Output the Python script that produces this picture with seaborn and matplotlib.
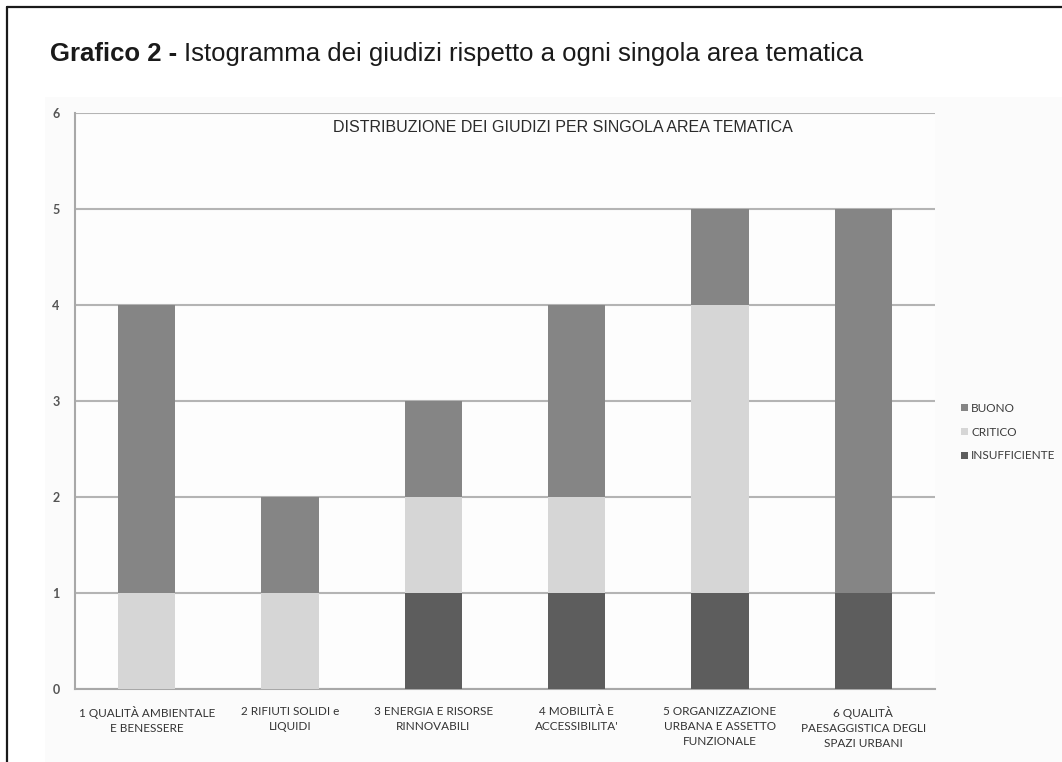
import matplotlib
matplotlib.use("Agg")
import matplotlib.pyplot as plt
from matplotlib.lines import Line2D
from matplotlib.patches import Rectangle
import numpy as np
import pandas as pd
import seaborn as sns

# Data: number of judgements per thematic area
categories = [
    "1 QUALITÀ AMBIENTALE\nE BENESSERE",
    "2 RIFIUTI SOLIDI e\nLIQUIDI",
    "3 ENERGIA E RISORSE\nRINNOVABILI",
    "4 MOBILITÀ E\nACCESSIBILITA'",
    "5 ORGANIZZAZIONE\nURBANA E ASSETTO\nFUNZIONALE",
    "6 QUALITÀ\nPAESAGGISTICA DEGLI\nSPAZI URBANI",
]
insufficiente = [0, 0, 1, 1, 1, 1]
critico = [1, 1, 1, 1, 3, 0]
buono = [3, 1, 1, 2, 1, 4]
y_ticks = [0, 1, 2, 3, 4, 5, 6]

colors = {"BUONO": "#858585", "CRITICO": "#d6d6d6", "INSUFFICIENTE": "#5d5d5d"}

sns.set_theme(style="white")
plt.rcParams["font.family"] = ["Liberation Sans", "DejaVu Sans"]
label_font = ["Lato", "DejaVu Sans"]

fig = plt.figure(figsize=(10.62, 7.62), dpi=100)
fig.patch.set_facecolor("white")

# Framed panel with the chart area
fig.add_artist(Line2D([7 / 1062, 7 / 1062], [0, 1 - 7 / 762], transform=fig.transFigure,
                      color="#1a1a1a", lw=1.6))
fig.add_artist(Line2D([7 / 1062, 1], [1 - 7 / 762, 1 - 7 / 762], transform=fig.transFigure,
                      color="#1a1a1a", lw=1.6))
fig.add_artist(Rectangle((45 / 1062, 0), 1 - 45 / 1062, 1 - 97 / 762, transform=fig.transFigure,
                         facecolor="#fbfbfb", edgecolor="none", zorder=0))

# Panel caption: bold prefix followed by regular text
title_y = 1 - 61 / 762
t1 = fig.text(50 / 1062, title_y, "Grafico 2 - ", fontsize=18.5, fontweight="bold",
              color="#1a1a1a", va="baseline", ha="left")
fig.canvas.draw()
bb = t1.get_window_extent(renderer=fig.canvas.get_renderer())
fig.text(bb.x1 / fig.bbox.width, title_y,
         "Istogramma dei giudizi rispetto a ogni singola area tematica",
         fontsize=18.5, color="#1a1a1a", va="baseline", ha="left")

ax = fig.add_axes([75 / 1062, 1 - 689 / 762, (935 - 75) / 1062, (689 - 113) / 762])
ax.set_facecolor("#fdfdfd")

df = pd.DataFrame({
    "area": categories,
    "INSUFFICIENTE": insufficiente,
    "CRITICO": critico,
    "BUONO": buono,
})
df["lvl_insuff"] = df["INSUFFICIENTE"]
df["lvl_critico"] = df["lvl_insuff"] + df["CRITICO"]
df["lvl_buono"] = df["lvl_critico"] + df["BUONO"]

# Stacked bars drawn as overlapping cumulative totals
for col, name in [("lvl_buono", "BUONO"), ("lvl_critico", "CRITICO"), ("lvl_insuff", "INSUFFICIENTE")]:
    sns.barplot(data=df, x="area", y=col, color=colors[name], saturation=1, width=0.4,
                ax=ax, label=name, zorder=3, edgecolor="none")

handles, labels = ax.get_legend_handles_labels()
if ax.get_legend() is not None:
    ax.get_legend().remove()

ax.set_ylim(0, 6)
ax.set_xlim(-0.5, len(categories) - 0.5)
ax.set_yticks(y_ticks)
ax.yaxis.grid(True, color="#b4b4b4", lw=1.5, zorder=1)
ax.set_axisbelow(True)
ax.set_xlabel("")
ax.set_ylabel("")

for s in ["top", "right"]:
    ax.spines[s].set_visible(False)
for s in ["left", "bottom"]:
    ax.spines[s].set_color("#a8a8a8")
    ax.spines[s].set_linewidth(1.5)

ax.tick_params(axis="y", length=5, width=1, color="#a8a8a8", labelsize=9, labelcolor="#555555", pad=6)
ax.tick_params(axis="x", which="major", length=0, labelsize=8.5, labelcolor="#333333", pad=12)
ax.set_xticks(np.arange(-0.5, len(categories)), minor=True)
ax.tick_params(axis="x", which="minor", length=5, width=1, color="#a8a8a8")
for lab in ax.get_yticklabels():
    lab.set_fontweight("bold")
    lab.set_family(label_font)
for lab in ax.get_xticklabels():
    lab.set_family(label_font)
    lab.set_linespacing(1.45)

fig.text(563 / 1062, 1 - 128 / 762, "DISTRIBUZIONE DEI GIUDIZI PER SINGOLA AREA TEMATICA",
         ha="center", va="center", fontsize=11.5, color="#2a2a2a")

order = ["BUONO", "CRITICO", "INSUFFICIENTE"]
hmap = dict(zip(labels, handles))
leg = fig.legend([hmap[k] for k in order], order, loc="center left",
                 bbox_to_anchor=(950 / 1062, 1 - 432 / 762), frameon=False,
                 prop={"family": label_font, "size": 8.5},
                 handlelength=0.6, handleheight=0.6, handletextpad=0.3,
                 labelspacing=1.1, labelcolor="#3a3a3a")

fig.savefig("out.png", dpi=100, facecolor="white")
